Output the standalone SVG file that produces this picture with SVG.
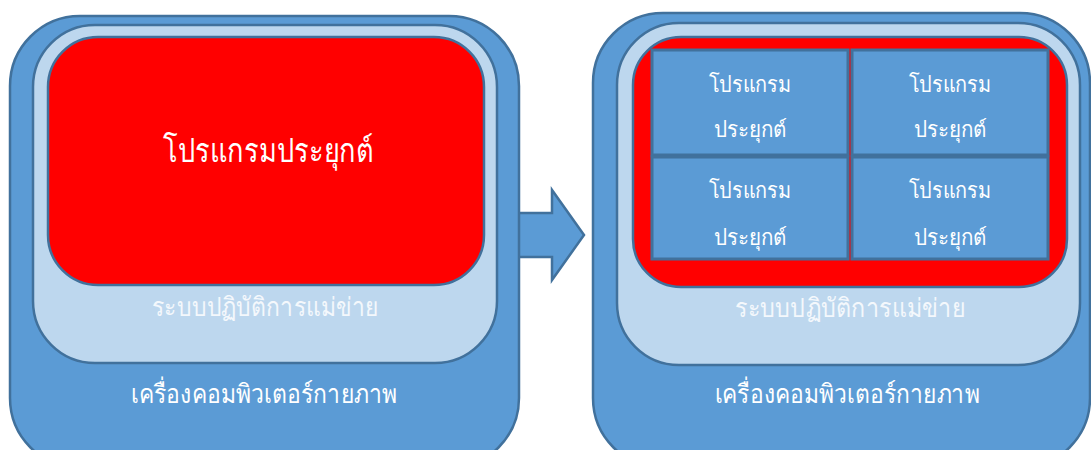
<svg xmlns="http://www.w3.org/2000/svg" width="1091" height="450" viewBox="0 0 1091 450">
<style>
.outer{fill:#5B9BD5;stroke:#41719C;stroke-width:2.5}
.os{fill:#BDD7EE;stroke:#41719C;stroke-width:2.5}
.app{fill:#FF0000;stroke:#41719C;stroke-width:2.5}
.cell{fill:#5B9BD5;stroke:#41719C;stroke-width:3}
text{font-family:"Noto Sans","DejaVu Sans","Liberation Serif",serif;fill:#FFFFFF;text-anchor:middle}
.big{font-size:33px}
.mid{font-size:26px}
.sm{font-size:22px}
.ostxt{fill:#F4F8FC}
</style>
<g id="connectors">
<polygon points="518,213 552,213 552,190 584,235 552,280 552,257 518,257" fill="#5B9BD5" stroke="#41719C" stroke-width="2.5"/>
</g>
<g id="left-physical">
<rect class="outer" x="10" y="16" width="509" height="452" rx="70"/>
<text class="mid" x="264" y="403" textLength="266" lengthAdjust="spacingAndGlyphs">เครื่องคอมพิวเตอร์กายภาพ</text>
</g>
<g id="left-os">
<rect class="os" x="33" y="25" width="464" height="338" rx="62"/>
<text class="mid ostxt" x="265" y="316" textLength="226" lengthAdjust="spacingAndGlyphs">ระบบปฏิบัติการแม่ข่าย</text>
</g>
<g id="left-app">
<rect class="app" x="48" y="37" width="436" height="248" rx="50"/>
<text class="big" x="268" y="162" textLength="210" lengthAdjust="spacingAndGlyphs">โปรแกรมประยุกต์</text>
</g>
<g id="right-physical">
<rect class="outer" x="593" y="13" width="497" height="455" rx="70"/>
<text class="mid" x="847" y="403" textLength="265" lengthAdjust="spacingAndGlyphs">เครื่องคอมพิวเตอร์กายภาพ</text>
</g>
<g id="right-os">
<rect class="os" x="617" y="23" width="463" height="342" rx="62"/>
<text class="mid ostxt" x="850" y="317" textLength="230" lengthAdjust="spacingAndGlyphs">ระบบปฏิบัติการแม่ข่าย</text>
</g>
<g id="right-app">
<rect class="app" x="633" y="37" width="434" height="250" rx="48"/>
</g>
<g id="cell-1">
<rect class="cell" x="652" y="50" width="196" height="105"/>
<text class="sm" x="750" y="92" textLength="83" lengthAdjust="spacingAndGlyphs">โปรแกรม</text>
<text class="sm" x="750" y="137" textLength="73" lengthAdjust="spacingAndGlyphs">ประยุกต์</text>
</g>
<g id="cell-2">
<rect class="cell" x="852" y="50" width="196" height="105"/>
<text class="sm" x="950" y="92" textLength="83" lengthAdjust="spacingAndGlyphs">โปรแกรม</text>
<text class="sm" x="950" y="137" textLength="73" lengthAdjust="spacingAndGlyphs">ประยุกต์</text>
</g>
<g id="cell-3">
<rect class="cell" x="652" y="157" width="196" height="102"/>
<text class="sm" x="750" y="198" textLength="83" lengthAdjust="spacingAndGlyphs">โปรแกรม</text>
<text class="sm" x="750" y="245" textLength="73" lengthAdjust="spacingAndGlyphs">ประยุกต์</text>
</g>
<g id="cell-4">
<rect class="cell" x="852" y="157" width="196" height="102"/>
<text class="sm" x="950" y="198" textLength="83" lengthAdjust="spacingAndGlyphs">โปรแกรม</text>
<text class="sm" x="950" y="245" textLength="73" lengthAdjust="spacingAndGlyphs">ประยุกต์</text>
</g>
</svg>
